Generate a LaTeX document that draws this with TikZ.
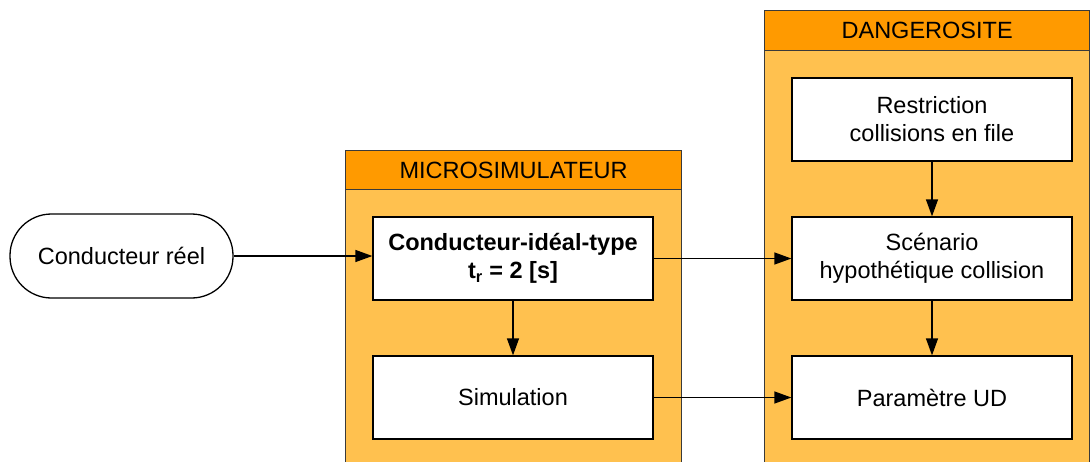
\documentclass[tikz,border=0pt]{standalone}
\usepackage{fontspec}
\setmainfont{Liberation Sans}
\usetikzlibrary{arrows.meta}
\definecolor{framefill}{HTML}{FFC14F}
\definecolor{headfill}{HTML}{FF9A00}
\definecolor{framedraw}{HTML}{3A3A3A}
\begin{document}
\begin{tikzpicture}[x=1pt,y=-1pt,
  every node/.style={font=\fontsize{23.5}{28}\selectfont, align=center, inner sep=0pt},
  box/.style={draw=black, fill=white, line width=1.3pt, minimum width=280pt, minimum height=83pt},
  term/.style={draw=black, fill=white, line width=1.3pt, minimum width=223pt, minimum height=84pt, rounded corners=41.5pt},
  frame/.style={draw=framedraw, fill=framefill, line width=1.3pt},
  head/.style={draw=framedraw, fill=headfill, line width=1.3pt},
  arr/.style={-{Triangle[length=17pt,width=12pt]}, line width=1.3pt, black}]
\useasboundingbox (0,0) rectangle (1090,461);
% frames
\node[frame, anchor=north west, minimum width=336pt, minimum height=330pt] (microframe) at (345,150) {};
\node[head, anchor=north west, minimum width=336pt, minimum height=39pt] (microhead) at (345,150) {MICROSIMULATEUR};
\node[frame, anchor=north west, minimum width=325pt, minimum height=470pt] (dangframe) at (764,10) {};
\node[head, anchor=north west, minimum width=325pt, minimum height=40pt] (danghead) at (764,10) {DANGEROSITE};
% nodes
\node[term] (real) at (121.5,256) {Conducteur réel};
\node[box] (ideal) at (513,258.5) {\textbf{Conducteur-idéal-type}\\\textbf{t\textsubscript{r} = 2 [s]}};
\node[box] (sim) at (513,397.5) {Simulation};
\node[box] (restr) at (932,119.5) {Restriction\\collisions en file};
\node[box] (scen) at (932,258.5) {Scénario\\hypothétique collision};
\node[box] (param) at (932,397.5) {Paramètre UD};
% connectors
\draw[arr] (real.east) -- (real.east -| ideal.west);
\draw[arr] (ideal.east) -- (scen.west);
\draw[arr] (sim.east) -- (param.west);
\draw[arr] (ideal.south) -- (sim.north);
\draw[arr] (restr.south) -- (scen.north);
\draw[arr] (scen.south) -- (param.north);
\end{tikzpicture}
\end{document}
